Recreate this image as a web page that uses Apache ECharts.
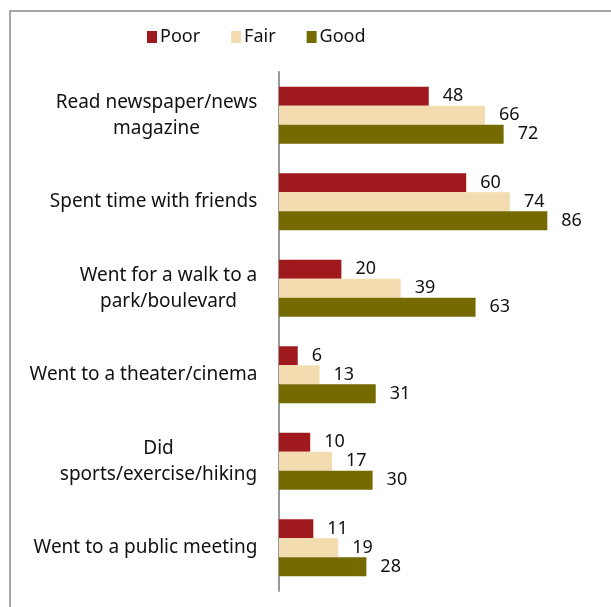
<!DOCTYPE html>
<html><head><meta charset="utf-8">
<script src="https://cdn.jsdelivr.net/npm/echarts@6/dist/echarts.min.js"></script>
<style>html,body{margin:0;padding:0;background:#fff}#c{width:611px;height:607px}</style>
</head><body><div id="c"></div>
<script>
const categories = ["Read newspaper/news\nmagazine","Spent time with friends","Went for a walk to a\npark/boulevard","Went to a theater/cinema","Did\nsports/exercise/hiking","Went to a public meeting"];
const seriesNames = ["Poor","Fair","Good"];
const poor = [48,60,20,6,10,11];
const fair = [66,74,39,13,17,19];
const good = [72,86,63,31,30,28];

const FONT = '"Noto Sans", sans-serif';
const FS = 19;
const colors = ['#A0191C','#F3DCAF','#746A00'];
const cv = document.createElement('canvas').getContext('2d');
cv.font = FS + 'px ' + FONT;
const rich = {};
categories.forEach((c,i)=>{
  const w = Math.max(...c.split('\n').map(l=>cv.measureText(l).width));
  rich['c'+i] = {width: Math.ceil(w)+1, align:'center', fontSize: FS, fontFamily: FONT, color:'#111', lineHeight: 26};
});
const chart = echarts.init(document.getElementById('c'));
const vals = [poor, fair, good];
chart.setOption({
  animation:false,
  graphic:[{type:'rect', shape:{x:10,y:11,width:700,height:700}, style:{fill:'none', stroke:'#8a8a8a', lineWidth:1.5}, z:-1}],
  legend:{top:28, left:147, padding:0, itemWidth:10, itemHeight:12, itemGap:31, icon:'rect',
    textStyle:{fontSize:18, fontFamily:FONT, color:'#111', padding:[0,0,0,-2]}, data:seriesNames},
  grid:{left:279, right:20, top:72, bottom:16},
  xAxis:{type:'value', min:0, max:100, show:false},
  yAxis:{type:'category', inverse:true, data:categories,
    axisLine:{lineStyle:{color:'#999', width:2}}, axisTick:{show:false},
    axisLabel:{margin:21, align:'right', formatter:(v,i)=>v.split('\n').map(l=>'{c'+i+'|'+l+'}').join('\n'), rich:rich}},
  series: seriesNames.map((n,k)=>({
    name:n, type:'bar', data:vals[k], barWidth:19, barGap:'0%', barCategoryGap:'34%',
    itemStyle:{color:colors[k]},
    label:{show:true, position:'right', distance:14, fontSize:18, fontFamily:FONT, color:'#111'}
  }))
});
</script></body></html>
